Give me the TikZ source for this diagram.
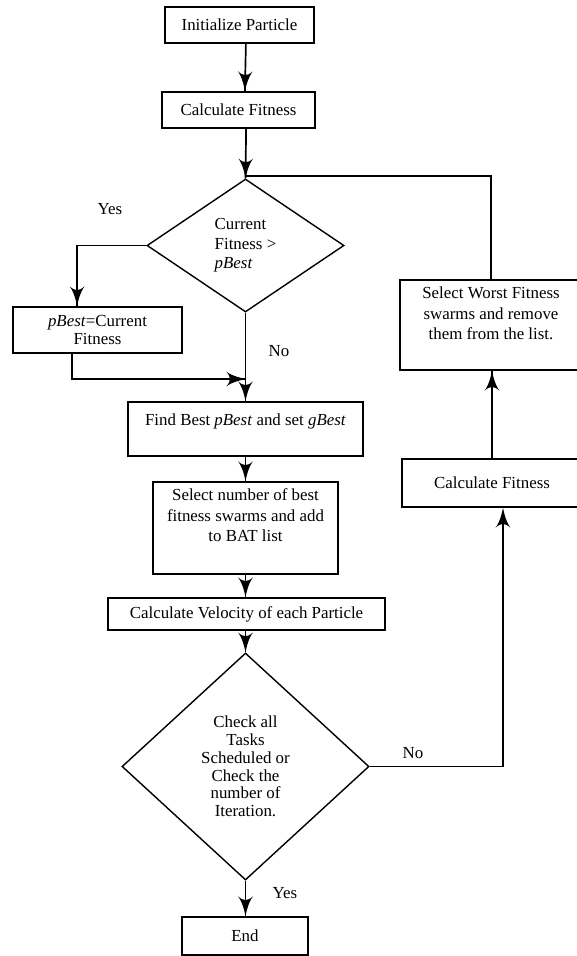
\documentclass[tikz,border=0pt]{standalone}
\usepackage{fontspec}
\setmainfont{Liberation Serif}
\usetikzlibrary{arrows}
\usetikzlibrary{decorations.markings}
\usetikzlibrary{shapes.geometric}
\tikzset{->/.style = {decoration={markings,
                                  mark=at position 1 with {\arrow[scale=2.2]{latex'}}},
                      postaction={decorate}}}
\tikzset{box/.style = {draw, line width=1.2pt, inner sep=2pt, align=center},
         decision/.style = {draw, diamond, line width=1pt, inner sep=0pt, align=center},
         flow/.style = {line width=1.2pt},
         inlabel/.style = {anchor=north, align=center, yshift=-0.07cm, font=\fontsize{12}{14.6}\selectfont}}

\begin{document}
\begin{tikzpicture}[x=0.025cm, y=-0.025cm, font=\fontsize{12}{13.8}\selectfont]
    \useasboundingbox (0, 0) rectangle (577, 956);

    \node [box, minimum width=3.725cm, minimum height=0.9cm] (init) at (239.5, 25) {Initialize Particle};
    \node [box, minimum width=3.825cm, minimum height=0.9cm] (calc) at (238.5, 110) {Calculate Fitness};
    \coordinate (join) at (246, 176);
    \node [decision, minimum width=4.925cm, minimum height=3.325cm, align=left] (dec1) at (245.5, 245.5)
          {Current\\Fitness >\\\textit{pBest}};
    \node [box, minimum width=4.225cm, minimum height=1.15cm, font=\fontsize{12}{12.5}\selectfont]
          (pbest) at (97.5, 330) {\textit{pBest}=Current\\Fitness};
    \coordinate (merge) at (246, 379);
    \node [box, minimum width=5.875cm, minimum height=1.35cm, text depth=0.45cm] (findbest) at (245.5, 429)
          {Find Best \textit{pBest} and set \textit{gBest}};
    \node [box, minimum width=4.625cm, minimum height=2.3cm,
           label={[inlabel]north:Select number of best\\fitness swarms and add\\to BAT list}]
          (selnum) at (245.5, 528) {};
    \node [box, minimum width=6.925cm, minimum height=0.8cm] (velocity) at (246.5, 614)
          {Calculate Velocity of each Particle};
    \node [decision, minimum width=6.175cm, minimum height=5.675cm, font=\fontsize{12}{12.6}\selectfont]
          (dec2) at (245.5, 766.5)
          {Check all\\Tasks\\Scheduled or\\Check the\\number of\\Iteration.};
    \node [box, minimum width=3.15cm, minimum height=0.95cm] (end) at (245, 936) {End};
    \node [box, minimum width=4.5cm, minimum height=1.2cm] (calcR) at (492, 483) {Calculate Fitness};
    \node [box, minimum width=4.55cm, minimum height=2.25cm,
           label={[inlabel]north:Select Worst Fitness\\swarms and remove\\them from the list.}]
          (selworst) at (491, 325) {};

    \node (yes1) at (110, 209) {Yes};
    \node (no1) at (279, 351) {No};
    \node (no2) at (413, 753) {No};
    \node (yes2) at (285, 893) {Yes};

    \draw [flow, ->] ([xshift=0.16cm]init.south) -- ([xshift=0.16cm]calc.north);
    \draw [flow, ->] ([xshift=0.19cm]calc.south) -- (dec1.north);
    \draw [flow] (selworst.north) |- (join);
    \draw [flow, ->] (dec1.west) -| ([xshift=-0.51cm]pbest.north);
    \draw [flow, ->] ([xshift=-0.64cm]pbest.south) |- (merge);
    \draw [flow, ->] (dec1.south) -- (findbest.north);
    \draw [flow, ->] (findbest.south) -- (selnum.north);
    \draw [flow, ->] (selnum.south) -- ([xshift=-0.025cm]velocity.north);
    \draw [flow, ->] ([xshift=-0.025cm]velocity.south) -- (dec2.north);
    \draw [flow, ->] (dec2.south) -- (dec2.south |- end.north);
    \draw [flow, ->, shorten >=0.2cm] (dec2.east) -| ([xshift=0.275cm]calcR.south);
    \draw [flow, ->] (calcR.north) -- (calcR.north |- selworst.south);
\end{tikzpicture}
\end{document}
